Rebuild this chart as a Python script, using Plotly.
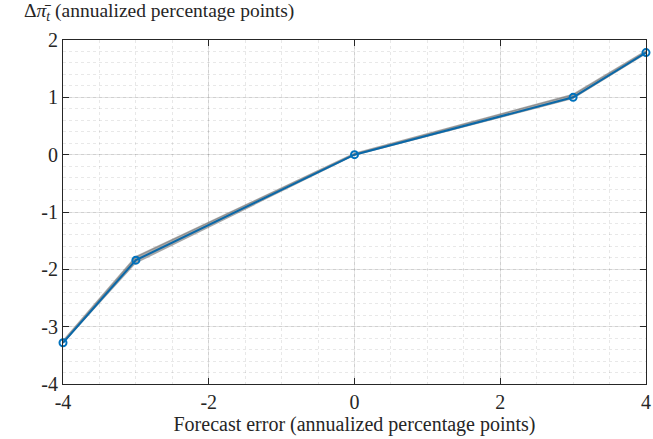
import plotly.graph_objects as go

forecast_error = [-4, -3, 0, 3, 4]
delta_pi = [-3.28, -1.84, 0.0, 1.00, 1.78]
band_lower = [-3.30, -1.90, -0.02, 0.97, 1.75]
band_upper = [-3.25, -1.78, 0.02, 1.05, 1.81]

x_ticks = [-4, -2, 0, 2, 4]
y_ticks = [-4, -3, -2, -1, 0, 1, 2]

font_family = "Liberation Serif"
axis_col = "#262626"

fig = go.Figure()
fig.add_trace(go.Scatter(x=forecast_error, y=band_lower, mode="lines",
                         line=dict(width=0, color="rgba(0,0,0,0)"),
                         showlegend=False, hoverinfo="skip"))
fig.add_trace(go.Scatter(x=forecast_error, y=band_upper, mode="lines",
                         line=dict(width=1.5, color="rgba(120,120,120,0.65)"),
                         fill="tonexty", fillcolor="rgba(120,120,120,0.65)",
                         showlegend=False, hoverinfo="skip"))
fig.add_trace(go.Scatter(x=forecast_error, y=delta_pi, mode="lines+markers",
                         line=dict(color="#0a68a8", width=2),
                         marker=dict(symbol="circle-open", size=7,
                                     color="#0072BD", line=dict(width=2)),
                         cliponaxis=False, showlegend=False))

axis_common = dict(
    showline=True, linecolor=axis_col, linewidth=1, mirror="ticks",
    ticks="inside", ticklen=6, tickcolor=axis_col,
    showgrid=True, gridcolor="rgba(0,0,0,0.10)", gridwidth=1,
    zeroline=False, automargin=False,
    tickfont=dict(family=font_family, size=20, color=axis_col),
)

fig.update_xaxes(range=[-4, 4], tickvals=x_ticks,
                 ticktext=[str(v) for v in x_ticks],
                 minor=dict(dtick=0.5, showgrid=True, griddash="dot",
                            gridcolor="rgba(0,0,0,0.09)", ticks=""),
                 title=dict(text="Forecast error (annualized percentage points)",
                            font=dict(family=font_family, size=20, color=axis_col),
                            standoff=4),
                 **axis_common)
fig.update_yaxes(range=[-4, 2], tickvals=y_ticks,
                 ticktext=[str(v) for v in y_ticks],
                 minor=dict(dtick=0.2, showgrid=True, griddash="dot",
                            gridcolor="rgba(0,0,0,0.09)", ticks=""),
                 **axis_common)

fig.add_annotation(text="Δ<i>π̄</i><sub><i>t</i></sub> (annualized percentage points)",
                   xref="paper", yref="paper", x=-0.071, y=1.04,
                   xanchor="left", yanchor="bottom", showarrow=False,
                   font=dict(family=font_family, size=19.5, color=axis_col))

fig.update_layout(width=653, height=439,
                  margin=dict(l=63, r=7, t=40, b=55),
                  plot_bgcolor="white", paper_bgcolor="white")

fig.write_html("out.html", config={"displayModeBar": False},
               post_script="document.body.style.margin='0';document.body.style.overflow='hidden';")
